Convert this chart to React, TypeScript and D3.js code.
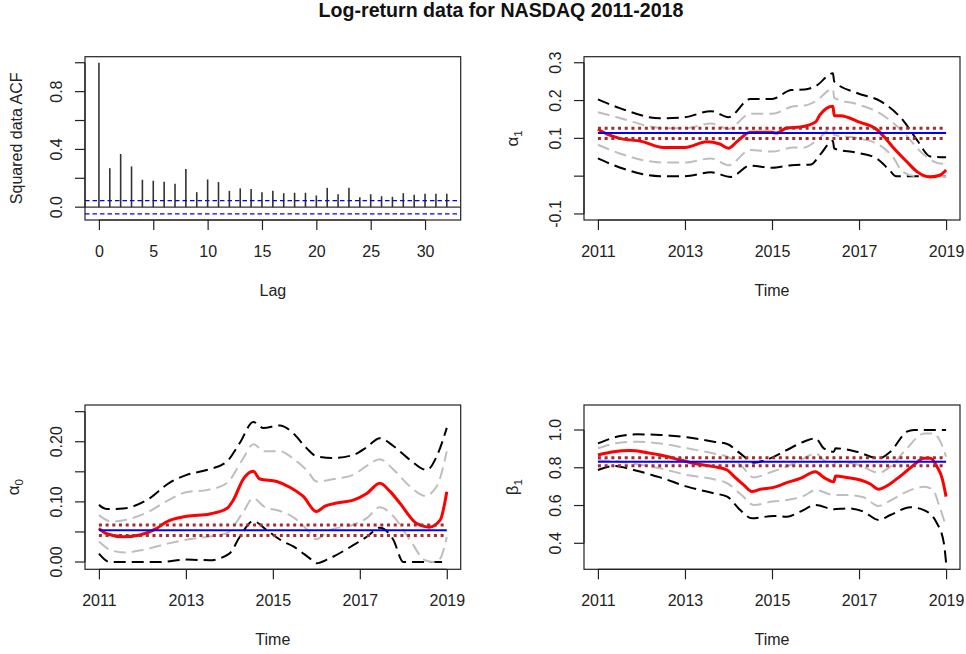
import React, { useEffect, useRef } from "react";
import * as d3 from "d3";

type Pt = [number, number];
type Box = { left: number; right: number; top: number; bottom: number };

const W = 966;
const H = 654;
const FONT = "'Liberation Sans', Arial, Helvetica, sans-serif";
const TITLE = "Log-return data for NASDAQ 2011-2018";

// squared data ACF
const ACF_LAGS = [0, 1, 2, 3, 4, 5, 6, 7, 8, 9, 10, 11, 12, 13, 14, 15, 16, 17, 18, 19, 20, 21, 22, 23, 24, 25, 26, 27, 28, 29, 30, 31, 32];
const ACF_VALUES = [1.0, 0.27, 0.368, 0.282, 0.19, 0.183, 0.176, 0.162, 0.264, 0.104, 0.192, 0.174, 0.113, 0.13, 0.125, 0.104, 0.113, 0.097, 0.1, 0.1, 0.081, 0.134, 0.09, 0.134, 0.069, 0.09, 0.076, 0.072, 0.097, 0.086, 0.093, 0.093, 0.093];
const ACF_CI = 0.046;
const LAG_TICKS = [0, 5, 10, 15, 20, 25, 30];

const TIME_TICKS = [2011, 2013, 2015, 2017, 2019];

// alpha_1
const A1_EST: Pt[] = [[2011, 0.124], [2011.2, 0.112], [2011.5, 0.1], [2012, 0.092], [2012.5, 0.076], [2013, 0.076], [2013.5, 0.091], [2013.8, 0.085], [2014.0, 0.074], [2014.2, 0.092], [2014.5, 0.116], [2015, 0.116], [2015.1, 0.114], [2015.35, 0.128], [2015.65, 0.13], [2016, 0.143], [2016.1, 0.162], [2016.4, 0.185], [2016.43, 0.16], [2016.57, 0.16], [2017.03, 0.142], [2017.4, 0.124], [2017.57, 0.105], [2017.8, 0.074], [2018.1, 0.038], [2018.33, 0.012], [2018.64, -0.002], [2018.87, 0.003], [2019, 0.016]];
const A1_OUT_UP: Pt[] = [[2011, 0.203], [2011.5, 0.18], [2012.43, 0.153], [2013, 0.156], [2013.6, 0.172], [2014.0, 0.156], [2014.5, 0.204], [2015, 0.204], [2015.45, 0.228], [2015.75, 0.229], [2016, 0.238], [2016.4, 0.272], [2016.43, 0.25], [2016.95, 0.22], [2017.5, 0.198], [2018.03, 0.145], [2018.33, 0.096], [2018.64, 0.052], [2019, 0.05]];
const A1_OUT_LO: Pt[] = [[2011, 0.047], [2011.5, 0.023], [2012.43, 0.0], [2013, 0.0], [2013.6, 0.01], [2014.05, -0.002], [2014.5, 0.028], [2015, 0.022], [2015.45, 0.029], [2015.9, 0.031], [2016.1, 0.056], [2016.4, 0.093], [2016.43, 0.073], [2016.95, 0.062], [2017.4, 0.047], [2017.7, 0.016], [2017.85, 0.0], [2019, 0.0]];
const A1_IN_UP: Pt[] = [[2011, 0.169], [2011.5, 0.154], [2012.5, 0.127], [2013, 0.127], [2013.6, 0.139], [2014, 0.125], [2014.5, 0.165], [2015, 0.165], [2015.5, 0.185], [2015.75, 0.187], [2016, 0.198], [2016.4, 0.231], [2016.43, 0.207], [2017, 0.189], [2017.5, 0.165], [2018, 0.118], [2018.5, 0.056], [2018.8, 0.035], [2019, 0.032]];
const A1_IN_LO: Pt[] = [[2011, 0.083], [2011.5, 0.06], [2012.5, 0.036], [2013, 0.036], [2013.6, 0.047], [2014, 0.029], [2014.5, 0.069], [2015, 0.065], [2015.5, 0.076], [2015.75, 0.076], [2016, 0.092], [2016.4, 0.127], [2016.43, 0.109], [2017, 0.1], [2017.5, 0.08], [2017.8, 0.047], [2018, 0.012], [2018.3, 0.0], [2019, 0.0]];
const A1_CONST = [0.114, 0.127, 0.0995];

// alpha_0
const A0_EST: Pt[] = [[2011, 0.056], [2011.18, 0.047], [2011.56, 0.042], [2011.94, 0.045], [2012.33, 0.056], [2012.56, 0.067], [2013.02, 0.076], [2013.55, 0.08], [2013.94, 0.089], [2014.09, 0.103], [2014.32, 0.138], [2014.55, 0.151], [2014.7, 0.138], [2015.09, 0.134], [2015.4, 0.124], [2015.7, 0.109], [2016.0, 0.084], [2016.2, 0.093], [2016.47, 0.098], [2016.85, 0.103], [2017.16, 0.114], [2017.46, 0.131], [2017.7, 0.117], [2017.92, 0.098], [2018.31, 0.064], [2018.6, 0.058], [2018.85, 0.07], [2019, 0.117]];
const A0_OUT_UP: Pt[] = [[2011, 0.095], [2011.18, 0.088], [2011.56, 0.089], [2012.1, 0.103], [2012.63, 0.132], [2013.02, 0.145], [2013.48, 0.153], [2013.94, 0.167], [2014.24, 0.198], [2014.55, 0.233], [2014.78, 0.223], [2015.16, 0.227], [2015.47, 0.214], [2015.78, 0.189], [2016.0, 0.176], [2016.39, 0.173], [2016.85, 0.178], [2017.16, 0.191], [2017.46, 0.206], [2017.77, 0.193], [2018.15, 0.17], [2018.54, 0.153], [2018.77, 0.176], [2019, 0.223]];
const A0_OUT_LO: Pt[] = [[2011, 0.014], [2011.25, 0.0], [2012.4, 0.0], [2013.02, 0.004], [2013.55, 0.003], [2014.0, 0.014], [2014.24, 0.042], [2014.55, 0.068], [2014.86, 0.053], [2015.24, 0.034], [2015.47, 0.026], [2015.85, 0.006], [2016.0, -0.002], [2016.3, 0.006], [2016.85, 0.028], [2017.16, 0.042], [2017.46, 0.057], [2017.77, 0.037], [2018.0, 0.0], [2019, 0.0]];
const A0_IN_UP: Pt[] = [[2011, 0.078], [2011.3, 0.067], [2011.6, 0.07], [2012.1, 0.082], [2012.6, 0.103], [2013.0, 0.116], [2013.5, 0.12], [2013.94, 0.131], [2014.3, 0.17], [2014.55, 0.196], [2014.8, 0.184], [2015.16, 0.184], [2015.5, 0.17], [2015.8, 0.151], [2016.0, 0.134], [2016.4, 0.138], [2016.85, 0.145], [2017.16, 0.16], [2017.46, 0.171], [2017.77, 0.154], [2018.15, 0.126], [2018.5, 0.11], [2018.77, 0.126], [2019, 0.184]];
const A0_IN_LO: Pt[] = [[2011, 0.034], [2011.3, 0.019], [2011.6, 0.016], [2012.0, 0.02], [2012.6, 0.031], [2013.0, 0.037], [2013.5, 0.042], [2013.94, 0.048], [2014.3, 0.081], [2014.55, 0.106], [2014.8, 0.092], [2015.2, 0.084], [2015.5, 0.073], [2015.8, 0.053], [2016.0, 0.038], [2016.3, 0.053], [2016.85, 0.062], [2017.16, 0.073], [2017.46, 0.091], [2017.77, 0.076], [2018.15, 0.037], [2018.5, 0.003], [2018.7, 0.0], [2018.85, 0.006], [2019, 0.042]];
const A0_CONST = [0.0528, 0.0617, 0.0439];

// beta_1
const B1_EST: Pt[] = [[2011, 0.868], [2011.36, 0.885], [2011.74, 0.891], [2012.13, 0.88], [2012.43, 0.868], [2012.9, 0.841], [2013.28, 0.82], [2013.66, 0.806], [2013.97, 0.788], [2014.12, 0.756], [2014.35, 0.709], [2014.54, 0.674], [2014.73, 0.686], [2015.04, 0.696], [2015.34, 0.721], [2015.65, 0.744], [2016.0, 0.779], [2016.19, 0.749], [2016.42, 0.726], [2016.46, 0.756], [2016.72, 0.748], [2017.03, 0.735], [2017.26, 0.714], [2017.45, 0.686], [2017.64, 0.704], [2017.95, 0.756], [2018.26, 0.815], [2018.49, 0.85], [2018.64, 0.85], [2018.79, 0.806], [2018.91, 0.744], [2019, 0.647]];
const B1_OUT_UP: Pt[] = [[2011, 0.929], [2011.51, 0.968], [2011.9, 0.977], [2012.43, 0.974], [2013.05, 0.961], [2013.66, 0.938], [2013.97, 0.926], [2014.27, 0.876], [2014.58, 0.827], [2014.96, 0.85], [2015.34, 0.894], [2015.73, 0.938], [2016.0, 0.956], [2016.19, 0.903], [2016.42, 0.885], [2016.46, 0.903], [2016.95, 0.885], [2017.45, 0.85], [2017.72, 0.885], [2018.1, 0.991], [2018.26, 1.0], [2019, 1.0]];
const B1_OUT_LO: Pt[] = [[2011, 0.788], [2011.36, 0.809], [2011.82, 0.788], [2012.43, 0.749], [2013.05, 0.7], [2013.66, 0.665], [2013.97, 0.647], [2014.27, 0.576], [2014.54, 0.532], [2015.04, 0.545], [2015.34, 0.541], [2015.65, 0.568], [2016.0, 0.603], [2016.42, 0.58], [2016.72, 0.585], [2017.1, 0.568], [2017.45, 0.524], [2017.72, 0.55], [2018.18, 0.591], [2018.49, 0.576], [2018.79, 0.506], [2018.95, 0.4], [2019, 0.297]];
const B1_IN_UP: Pt[] = [[2011, 0.903], [2011.5, 0.933], [2011.9, 0.938], [2012.43, 0.929], [2013.05, 0.903], [2013.66, 0.876], [2013.97, 0.859], [2014.3, 0.809], [2014.58, 0.749], [2015.0, 0.779], [2015.34, 0.806], [2015.73, 0.85], [2016.0, 0.876], [2016.2, 0.838], [2016.42, 0.815], [2016.46, 0.832], [2017.0, 0.815], [2017.45, 0.774], [2017.72, 0.806], [2018.1, 0.903], [2018.5, 0.982], [2018.7, 0.982], [2018.85, 0.947], [2019, 0.859]];
const B1_IN_LO: Pt[] = [[2011, 0.841], [2011.5, 0.832], [2012.0, 0.815], [2012.43, 0.797], [2013.05, 0.762], [2013.66, 0.739], [2013.97, 0.718], [2014.3, 0.656], [2014.58, 0.603], [2015.0, 0.621], [2015.34, 0.629], [2015.73, 0.651], [2016.0, 0.682], [2016.42, 0.656], [2016.72, 0.656], [2017.1, 0.644], [2017.45, 0.598], [2017.72, 0.626], [2018.1, 0.674], [2018.5, 0.7], [2018.7, 0.682], [2018.85, 0.594], [2019, 0.488]];
const B1_CONST = [0.832, 0.853, 0.811];

const TL: Box = { left: 85, right: 460.7, top: 56.7, bottom: 220 };
const TR: Box = { left: 584, right: 960, top: 56.7, bottom: 220 };
const BL: Box = { left: 85, right: 460.7, top: 405, bottom: 569.3 };
const BR: Box = { left: 584, right: 960, top: 405, bottom: 569.3 };

function frame(g: any, p: Box) {
  g.append("rect")
    .attr("x", p.left).attr("y", p.top)
    .attr("width", p.right - p.left).attr("height", p.bottom - p.top)
    .attr("fill", "none").attr("stroke", "#222").attr("stroke-width", 1.2);
}

function xAxis(g: any, x: any, p: Box, ticks: number[], title: string) {
  const ax = g.append("g").attr("transform", `translate(0,${p.bottom})`)
    .call(d3.axisBottom(x).tickValues(ticks).tickFormat((d: any) => String(d))
      .tickSize(10).tickSizeOuter(0).tickPadding(15.3));
  ax.select(".domain").remove();
  ax.append("line")
    .attr("x1", x(ticks[0])).attr("x2", x(ticks[ticks.length - 1]))
    .attr("stroke", "#222").attr("stroke-width", 1.2);
  ax.selectAll(".tick line").attr("stroke", "#222").attr("stroke-width", 1.2);
  ax.selectAll(".tick text").attr("fill", "#222").style("font-size", "16px").style("font-family", FONT);
  g.append("text")
    .attr("x", (p.left + p.right) / 2).attr("y", p.bottom + 76)
    .attr("text-anchor", "middle").attr("fill", "#222")
    .style("font-size", "16px").style("font-family", FONT)
    .text(title);
}

function yAxis(g: any, y: any, p: Box, ticks: number[], labels: string[]) {
  g.append("line")
    .attr("x1", p.left).attr("x2", p.left)
    .attr("y1", y(ticks[0])).attr("y2", y(ticks[ticks.length - 1]))
    .attr("stroke", "#222").attr("stroke-width", 1.2);
  g.selectAll(null).data(ticks).join("line")
    .attr("x1", p.left - 10).attr("x2", p.left)
    .attr("y1", (d: number) => y(d)).attr("y2", (d: number) => y(d))
    .attr("stroke", "#222").attr("stroke-width", 1.2);
  g.selectAll(null).data(ticks).join("text")
    .attr("transform", (d: number) => `translate(${p.left - 23},${y(d)}) rotate(-90)`)
    .attr("text-anchor", "middle").attr("fill", "#222")
    .style("font-size", "16px").style("font-family", FONT)
    .text((_: number, i: number) => labels[i]);
}

function greekLabel(g: any, p: Box, sym: string, sub: string) {
  const t = g.append("text")
    .attr("transform", `translate(${p.left - 66},${(p.top + p.bottom) / 2}) rotate(-90)`)
    .attr("text-anchor", "middle").attr("fill", "#222")
    .style("font-size", "17px").style("font-family", FONT);
  t.append("tspan").text(sym);
  t.append("tspan").attr("dy", 4).style("font-size", "11.5px").text(sub);
}

function timePanel(g: any, p: Box, yDomain: number[], yTicks: number[], yLabels: string[],
  sym: string, sub: string, est: Pt[], outUp: Pt[], outLo: Pt[], inUp: Pt[], inLo: Pt[], cst: number[]) {
  const x = d3.scaleLinear().domain([2010.68, 2019.32]).range([p.left, p.right]);
  const y = d3.scaleLinear().domain(yDomain).range([p.bottom, p.top]);
  const line = d3.line<Pt>().x(d => x(d[0])).y(d => y(d[1])).curve(d3.curveMonotoneX);

  const series = [
    { d: outUp, c: "#000", w: 2, dash: "12,6" },
    { d: outLo, c: "#000", w: 2, dash: "12,6" },
    { d: inUp, c: "#bebebe", w: 2, dash: "12,6" },
    { d: inLo, c: "#bebebe", w: 2, dash: "12,6" },
    { d: est, c: "#ff0000", w: 3, dash: null },
  ];
  g.selectAll(null).data(series).join("path")
    .attr("d", (s: any) => line(s.d))
    .attr("fill", "none")
    .attr("stroke", (s: any) => s.c)
    .attr("stroke-width", (s: any) => s.w)
    .attr("stroke-dasharray", (s: any) => s.dash);

  const consts = [
    { v: cst[0], c: "#0000ff", w: 2, dash: null },
    { v: cst[1], c: "#a52a2a", w: 3, dash: "3,3.7" },
    { v: cst[2], c: "#a52a2a", w: 3, dash: "3,3.7" },
  ];
  g.selectAll(null).data(consts).join("line")
    .attr("x1", x(2011)).attr("x2", x(2019))
    .attr("y1", (c: any) => y(c.v)).attr("y2", (c: any) => y(c.v))
    .attr("stroke", (c: any) => c.c)
    .attr("stroke-width", (c: any) => c.w)
    .attr("stroke-dasharray", (c: any) => c.dash);

  frame(g, p);
  xAxis(g, x, p, TIME_TICKS, "Time");
  yAxis(g, y, p, yTicks, yLabels);
  greekLabel(g, p, sym, sub);
}

export default function App() {
  const ref = useRef<SVGSVGElement>(null);

  useEffect(() => {
    const svg = d3.select(ref.current);
    svg.selectAll("*").remove();

    svg.append("text")
      .attr("x", 501).attr("y", 17)
      .attr("text-anchor", "middle").attr("fill", "#111")
      .style("font-size", "19.6px").style("font-weight", "bold").style("font-family", FONT)
      .text(TITLE);

    // ACF panel
    const g1 = svg.append("g");
    const x = d3.scaleLinear().domain([-1.28, 33.28]).range([TL.left, TL.right]);
    const y = d3.scaleLinear().domain([-0.0888, 1.0419]).range([TL.bottom, TL.top]);
    g1.selectAll(null).data(ACF_LAGS).join("line")
      .attr("x1", (d: number) => x(d)).attr("x2", (d: number) => x(d))
      .attr("y1", y(0)).attr("y2", (_: number, i: number) => y(ACF_VALUES[i]))
      .attr("stroke", "#333").attr("stroke-width", 1.6);
    g1.append("line")
      .attr("x1", TL.left).attr("x2", TL.right).attr("y1", y(0)).attr("y2", y(0))
      .attr("stroke", "#333").attr("stroke-width", 1.2);
    g1.selectAll(null).data([ACF_CI, -ACF_CI]).join("line")
      .attr("x1", TL.left).attr("x2", TL.right)
      .attr("y1", (d: number) => y(d)).attr("y2", (d: number) => y(d))
      .attr("stroke", "#0000ff").attr("stroke-width", 1.3).attr("stroke-dasharray", "4.5,3");
    frame(g1, TL);
    xAxis(g1, x, TL, LAG_TICKS, "Lag");
    yAxis(g1, y, TL, [0, 0.2, 0.4, 0.6, 0.8, 1.0], ["0.0", "", "0.4", "", "0.8", ""]);
    g1.append("text")
      .attr("transform", `translate(${TL.left - 63},${(TL.top + TL.bottom) / 2}) rotate(-90)`)
      .attr("text-anchor", "middle").attr("fill", "#222")
      .style("font-size", "16px").style("font-family", FONT)
      .text("Squared data ACF");

    timePanel(svg.append("g"), TR, [-0.116, 0.316], [-0.1, 0, 0.1, 0.2, 0.3], ["-0.1", "", "0.1", "0.2", "0.3"],
      "α", "1", A1_EST, A1_OUT_UP, A1_OUT_LO, A1_IN_UP, A1_IN_LO, A1_CONST);
    timePanel(svg.append("g"), BL, [-0.0121, 0.2611], [0, 0.05, 0.1, 0.15, 0.2, 0.25], ["0.00", "", "0.10", "", "0.20", ""],
      "α", "0", A0_EST, A0_OUT_UP, A0_OUT_LO, A0_IN_UP, A0_IN_LO, A0_CONST);
    timePanel(svg.append("g"), BR, [0.2623, 1.1324], [0.4, 0.6, 0.8, 1.0], ["0.4", "0.6", "0.8", "1.0"],
      "β", "1", B1_EST, B1_OUT_UP, B1_OUT_LO, B1_IN_UP, B1_IN_LO, B1_CONST);
  }, []);

  return (
    <svg ref={ref} width={W} height={H}
      style={{ position: "absolute", left: 0, top: 0, background: "#fff" }} />
  );
}
